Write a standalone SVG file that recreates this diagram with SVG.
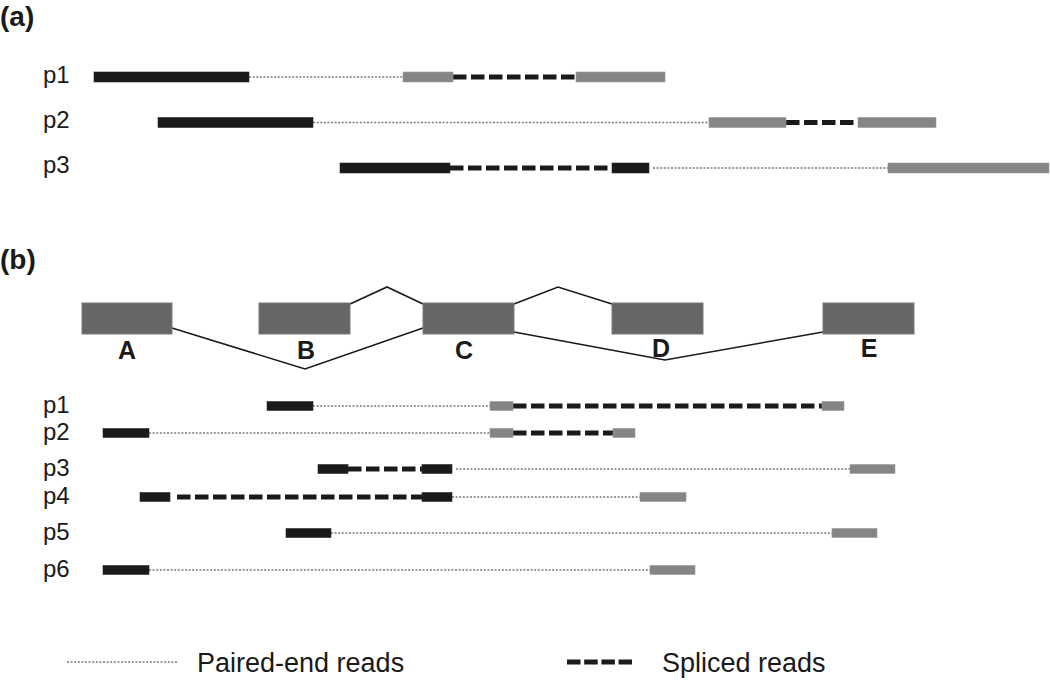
<svg xmlns="http://www.w3.org/2000/svg" width="1050" height="682" viewBox="0 0 1050 682">
<style>
.bg{fill:#ffffff}
.lab{font-family:"Liberation Sans",Arial,sans-serif;font-size:24px;fill:#1a1a1a}
.big{font-family:"Liberation Sans",Arial,sans-serif;font-size:27px;fill:#1a1a1a}
.hdr{font-family:"Liberation Sans",Arial,sans-serif;font-size:28px;font-weight:bold;fill:#1a1a1a}
.ex{font-family:"Liberation Sans",Arial,sans-serif;font-size:25px;font-weight:bold;fill:#1a1a1a;text-anchor:middle}
.blk{fill:#1a1a1a;stroke:#2a2a2a;stroke-width:0.6}
.gry{fill:#858585;stroke:#9a9a9a;stroke-width:0.6}
.exon{fill:#666666;stroke:#7a7a7a;stroke-width:1}
.dot{stroke:#7a7a7a;stroke-width:1.3;stroke-dasharray:2 1.6;fill:none}
.dash{stroke:#1a1a1a;stroke-width:5;stroke-dasharray:13.5 4.5;fill:none}
.intron{stroke:#1a1a1a;stroke-width:1.6;fill:none}
</style>
<rect class="bg" x="0" y="0" width="1050" height="682"/>

<g id="panel-a-label"><text class="hdr" x="0" y="26">(a)</text></g>
<g id="panel-b-label"><text class="hdr" x="0" y="269">(b)</text></g>

<g id="connectors">
  <line class="dot" x1="249" y1="77" x2="403" y2="77"/>
  <line class="dash" x1="453" y1="77" x2="576" y2="77"/>
  <line class="dot" x1="313" y1="122.5" x2="709" y2="122.5"/>
  <line class="dash" x1="786" y1="122.5" x2="858" y2="122.5"/>
  <line class="dash" x1="450" y1="168" x2="612" y2="168"/>
  <line class="dot" x1="653" y1="168" x2="888" y2="168"/>
  <polyline class="intron" points="172,328 305,369 423,328"/>
  <polyline class="intron" points="350,304 387,287 423,304"/>
  <polyline class="intron" points="514,304 558,287 612,304"/>
  <polyline class="intron" points="514,332 665,360 823,332"/>
  <line class="dot" x1="313" y1="406" x2="490" y2="406"/>
  <line class="dash" x1="513" y1="406" x2="822" y2="406"/>
  <line class="dot" x1="149" y1="433" x2="490" y2="433"/>
  <line class="dash" x1="513" y1="433" x2="613" y2="433"/>
  <line class="dash" x1="348" y1="469" x2="422" y2="469"/>
  <line class="dot" x1="456" y1="469" x2="850" y2="469"/>
  <line class="dash" x1="177" y1="497" x2="422" y2="497"/>
  <line class="dot" x1="452" y1="497" x2="640" y2="497"/>
  <line class="dot" x1="331" y1="533" x2="832" y2="533"/>
  <line class="dot" x1="149" y1="570" x2="650" y2="570"/>
</g>

<g id="a-p1">
  <text class="lab" x="43" y="83">p1</text>
  <rect class="blk" x="94" y="72" width="155" height="10"/>
  <rect class="gry" x="403" y="72" width="50" height="10"/>
  <rect class="gry" x="576" y="72" width="89" height="10"/>
</g>
<g id="a-p2">
  <text class="lab" x="43" y="128">p2</text>
  <rect class="blk" x="158" y="117.5" width="155" height="10"/>
  <rect class="gry" x="709" y="117.5" width="77" height="10"/>
  <rect class="gry" x="858" y="117.5" width="78" height="10"/>
</g>
<g id="a-p3">
  <text class="lab" x="43" y="173">p3</text>
  <rect class="blk" x="340" y="163" width="110" height="10"/>
  <rect class="blk" x="612" y="163" width="37" height="10"/>
  <rect class="gry" x="888" y="163" width="161" height="10"/>
</g>

<g id="exon-A"><rect class="exon" x="82" y="303" width="90" height="31"/><text class="ex" x="127" y="359">A</text></g>
<g id="exon-B"><rect class="exon" x="259" y="303" width="91" height="31"/><text class="ex" x="306" y="359">B</text></g>
<g id="exon-C"><rect class="exon" x="423" y="303" width="91" height="31"/><text class="ex" x="464" y="359">C</text></g>
<g id="exon-D"><rect class="exon" x="612" y="303" width="91" height="31"/><text class="ex" x="661" y="357">D</text></g>
<g id="exon-E"><rect class="exon" x="823" y="303" width="91" height="31"/><text class="ex" x="869" y="357">E</text></g>

<g id="b-p1">
  <text class="lab" x="43" y="413">p1</text>
  <rect class="blk" x="267" y="401.5" width="46" height="9"/>
  <rect class="gry" x="490" y="401.5" width="23" height="9"/>
  <rect class="gry" x="822" y="401.5" width="22" height="9"/>
</g>
<g id="b-p2">
  <text class="lab" x="43" y="440">p2</text>
  <rect class="blk" x="103" y="428.5" width="46" height="9"/>
  <rect class="gry" x="490" y="428.5" width="23" height="9"/>
  <rect class="gry" x="613" y="428.5" width="22" height="9"/>
</g>
<g id="b-p3">
  <text class="lab" x="43" y="476">p3</text>
  <rect class="blk" x="318" y="464.5" width="30" height="9"/>
  <rect class="blk" x="422" y="464.5" width="30" height="9"/>
  <rect class="gry" x="850" y="464.5" width="45" height="9"/>
</g>
<g id="b-p4">
  <text class="lab" x="43" y="504">p4</text>
  <rect class="blk" x="140" y="492.5" width="30" height="9"/>
  <rect class="blk" x="422" y="492.5" width="30" height="9"/>
  <rect class="gry" x="640" y="492.5" width="46" height="9"/>
</g>
<g id="b-p5">
  <text class="lab" x="43" y="540">p5</text>
  <rect class="blk" x="286" y="528.5" width="45" height="9"/>
  <rect class="gry" x="832" y="528.5" width="45" height="9"/>
</g>
<g id="b-p6">
  <text class="lab" x="43" y="577">p6</text>
  <rect class="blk" x="103" y="565.5" width="46" height="9"/>
  <rect class="gry" x="650" y="565.5" width="45" height="9"/>
</g>

<g id="legend-paired">
  <line class="dot" x1="67" y1="662" x2="177" y2="662"/>
  <text class="big" x="197" y="672">Paired-end reads</text>
</g>
<g id="legend-spliced">
  <line class="dash" x1="567" y1="662" x2="632" y2="662" style="stroke-dasharray:13.5 3.7"/>
  <text class="big" x="662" y="672">Spliced reads</text>
</g>
</svg>
